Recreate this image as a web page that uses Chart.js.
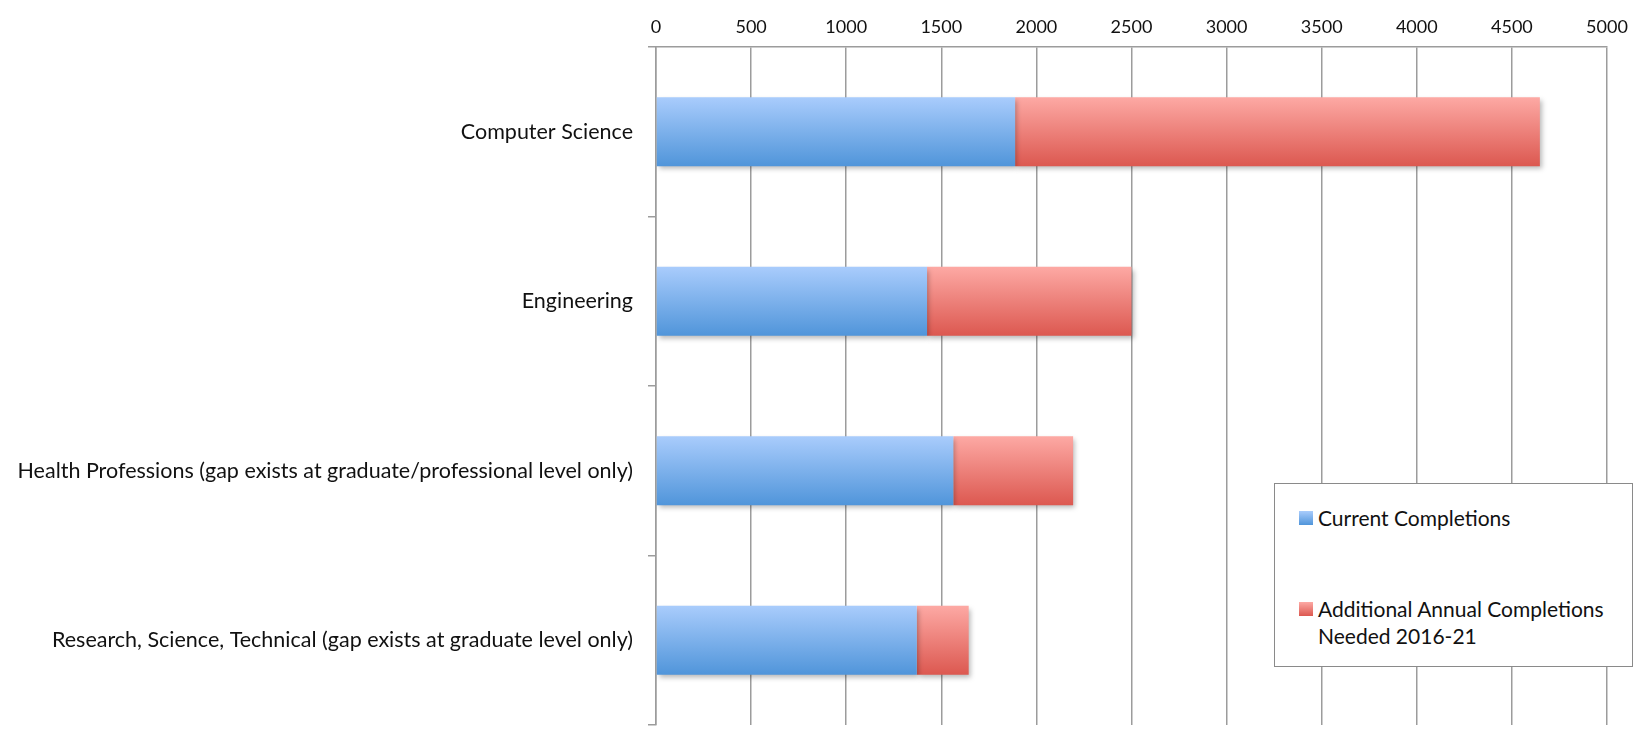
<!DOCTYPE html>
<html>
<head>
<meta charset="utf-8">
<script src="https://cdn.jsdelivr.net/npm/chart.js@4.4.1/dist/chart.umd.min.js"></script>
<style>
  html, body { margin: 0; padding: 0; background: #fff; }
  #wrap { position: relative; width: 1643px; height: 730px; }
  canvas { display: block; }
  #legend {
    position: absolute; left: 1274px; top: 483px; width: 359px; height: 184px;
    border: 1.5px solid #8a8a8a; background: #fff; box-sizing: border-box;
    font-family: Lato, sans-serif; font-size: 21px; color: #111;
  }
  .item { position: absolute; left: 24px; display: flex; align-items: flex-start; line-height: 27px; }
  .box { width: 14px; height: 14px; margin-top: 7px; margin-right: 5px; flex: none; }
  .txt { width: 305px; }
</style>
</head>
<body>
<div id="wrap">
  <canvas id="grafico" width="1643" height="730"></canvas>
  <div id="legend"></div>
</div>
<script>
const categorias = [
  'Computer Science',
  'Engineering',
  'Health Professions (gap exists at graduate/professional level only)',
  'Research, Science, Technical (gap exists at graduate level only)'
];
const atuais = [1888, 1425, 1563, 1371];
const adicionais = [2759, 1075, 630, 273];
const nomes = ['Current Completions', 'Additional Annual Completions Needed 2016-21'];
const ticksX = [0, 500, 1000, 1500, 2000, 2500, 3000, 3500, 4000, 4500, 5000];

const azul = ['#a9ccfc', '#5095da'];
const vermelho = ['#fda9a4', '#dc5850'];
const larguraBarra = 0.407;

function degrade(cores) {
  return function (context) {
    const chart = context.chart;
    const area = chart.chartArea;
    if (!area) return cores[1];
    const y = chart.scales.y;
    const centro = y.getPixelForValue(context.dataIndex);
    const metade = (area.bottom - area.top) / categorias.length * larguraBarra / 2;
    const g = chart.ctx.createLinearGradient(0, centro - metade, 0, centro + metade);
    g.addColorStop(0, cores[0]);
    g.addColorStop(1, cores[1]);
    return g;
  };
}

// soft shadow under the bars like the original
const sombra = {
  id: 'sombra',
  beforeDatasetsDraw(chart) {
    const c = chart.ctx;
    c.save();
    c.shadowColor = 'rgba(0,0,0,0.28)';
    c.shadowBlur = 5;
    c.shadowOffsetX = 2;
    c.shadowOffsetY = 3;
  },
  afterDatasetsDraw(chart) {
    chart.ctx.restore();
  }
};

const cinza = '#9c9c9c';

const grafico = document.getElementById('grafico').getContext('2d');
const myChart = new Chart(grafico, {
  type: 'bar',
  data: {
    labels: categorias,
    datasets: [{
      label: nomes[0],
      data: atuais,
      backgroundColor: degrade(azul),
      categoryPercentage: 1,
      barPercentage: larguraBarra,
      borderWidth: 0
    }, {
      label: nomes[1],
      data: adicionais,
      backgroundColor: degrade(vermelho),
      categoryPercentage: 1,
      barPercentage: larguraBarra,
      borderWidth: 0
    }]
  },
  options: {
    indexAxis: 'y',
    responsive: false,
    animation: false,
    layout: { padding: { left: 0, right: 36, top: 0, bottom: 5 } },
    plugins: { legend: { display: false }, tooltip: { enabled: false } },
    scales: {
      x: {
        position: 'top',
        stacked: true,
        min: 0,
        max: 5000,
        afterBuildTicks(scale) { scale.ticks = ticksX.map(v => ({ value: v })); },
        afterFit(scale) { scale.height = 47; },
        ticks: {
          color: '#111',
          font: { family: 'Lato, sans-serif', size: 18 },
          padding: 9,
          callback: (v) => String(v)
        },
        grid: { color: cinza, lineWidth: 1.5, drawTicks: false },
        border: { color: cinza, width: 1.5 }
      },
      y: {
        stacked: true,
        afterFit(scale) {
          scale.width = 656;
          scale.paddingTop = 0;
          scale.paddingBottom = 0;
        },
        ticks: { color: '#111', font: { family: 'Lato, sans-serif', size: 21.5 }, padding: 15 },
        grid: { offset: true, drawOnChartArea: false, color: cinza, lineWidth: 1.5, tickLength: 8 },
        border: { color: cinza, width: 1.5 }
      }
    }
  },
  plugins: [sombra]
});

// legend box in the lower right
const legenda = document.getElementById('legend');
const topos = [20, 111];
myChart.data.datasets.forEach((ds, i) => {
  const cores = i === 0 ? azul : vermelho;
  const item = document.createElement('div');
  item.className = 'item';
  item.style.top = topos[i] + 'px';
  item.innerHTML = '<span class="box" style="background:linear-gradient(' + cores[0] + ',' + cores[1] + ')"></span><span class="txt">' + ds.label + '</span>';
  legenda.appendChild(item);
});
</script>
</body>
</html>
